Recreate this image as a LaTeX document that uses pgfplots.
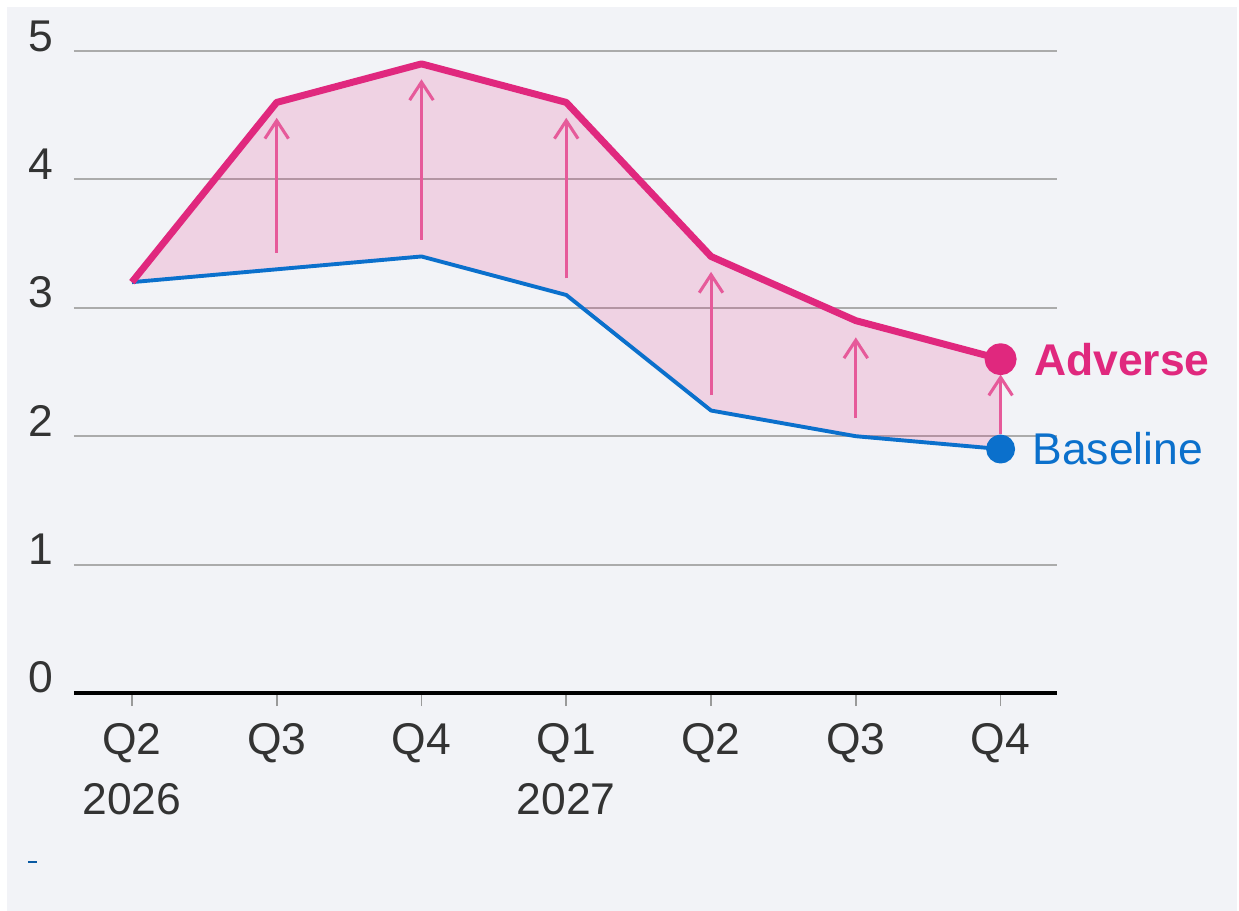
\documentclass[border=0pt]{standalone}
\usepackage{pgfplots}
\pgfplotsset{compat=1.18}
\usepackage{pgfplotstable}
\usepgfplotslibrary{fillbetween}
\usetikzlibrary{arrows.meta}
\usepackage{fontspec}
\setmainfont{Liberation Sans}
\definecolor{bgc}{HTML}{F2F3F7}
\definecolor{advc}{HTML}{E0287E}
\definecolor{arrc}{HTML}{E65A9A}
\definecolor{basec}{HTML}{0B70CC}
\definecolor{gridc}{HTML}{ABABAB}
\definecolor{labc}{HTML}{333333}

\pgfplotstableread{
x adv base
0 3.2 3.2
1 4.6 3.3
2 4.9 3.4
3 4.6 3.1
4 3.4 2.2
5 2.9 2.0
6 2.6 1.9
}\datatable

\pgfplotstableread{
x y v
1 3.43 1.05
2 3.53 1.25
3 3.23 1.25
4 2.32 0.96
5 2.14 0.63
6 2.02 0.46
}\arrtable

\begin{document}
\begin{tikzpicture}
\begin{axis}[
  at={(0pt,0pt)}, anchor=south west,
  scale only axis, width=353.9pt, height=231.1pt,
  xmin=-0.4, xmax=6.39, ymin=0, ymax=5,
  axis x line*=bottom, axis y line*=left,
  y axis line style={draw=none},
  x axis line style={black, line width=1.1pt},
  ymajorgrids, grid style={gridc, line width=0.7pt},
  ytick={0,1,2,3,4,5},
  xtick={0,1,2,3,4,5,6},
  xticklabels={{Q2\\2026},Q3,Q4,{Q1\\2027},Q2,Q3,Q4},
  tick align=outside, major tick length=4.7pt,
  xtick style={gridc!90!black, line width=0.6pt},
  ytick style={draw=none},
  tick label style={font=\fontsize{16}{21.6}\selectfont, text=labc},
  yticklabel style={anchor=base east, inner sep=0pt, xshift=-2.6pt},
  xticklabel style={anchor=north, align=center, inner sep=0pt, yshift=-6.1pt},
  /pgf/number format/assume math mode=true,
  clip=false,
]
\begin{pgfonlayer}{axis background}
\fill[white] (rel axis cs:-0.07528,-0.33956) rectangle (rel axis cs:1.18515,1.07944);
\fill[bgc] (rel axis cs:-0.06816,-0.33956) rectangle (rel axis cs:1.18311,1.06854);
\draw[basec!80!black, line width=0.6pt] (rel axis cs:-0.04680,-0.26324) -- (rel axis cs:-0.03764,-0.26324);
\end{pgfonlayer}
\addplot[name path=b, basec, line width=1.4pt, line join=round,
  mark=*, mark indices={7}, mark size=4.5pt, mark options={draw=none, fill=basec}]
  table[x=x,y=base]{\datatable}
  node[pos=1, anchor=west, xshift=10.8pt, inner sep=0pt, font=\fontsize{16}{19}\selectfont, text=basec]{Baseline};
\addplot[name path=a, advc, line width=2.5pt, line join=round,
  mark=*, mark indices={7}, mark size=4.5pt, mark options={draw=none, fill=advc}]
  table[x=x,y=adv]{\datatable}
  node[pos=1, anchor=west, xshift=10.8pt, inner sep=0pt, font=\fontsize{16}{19}\selectfont\bfseries, text=advc]{Adverse};
\addplot[fill=advc, fill opacity=0.16, draw=none] fill between[of=a and b];
\addplot[arrc, line width=1.1pt, quiver={u=0, v=\thisrow{v}},
  -{Straight Barb[length=6.5pt, width=8.5pt]}]
  table[x=x,y=y]{\arrtable};
\end{axis}
\pgfresetboundingbox
\path (-26.64pt,-78.48pt) rectangle (419.4pt,249.48pt);
\end{tikzpicture}
\end{document}
